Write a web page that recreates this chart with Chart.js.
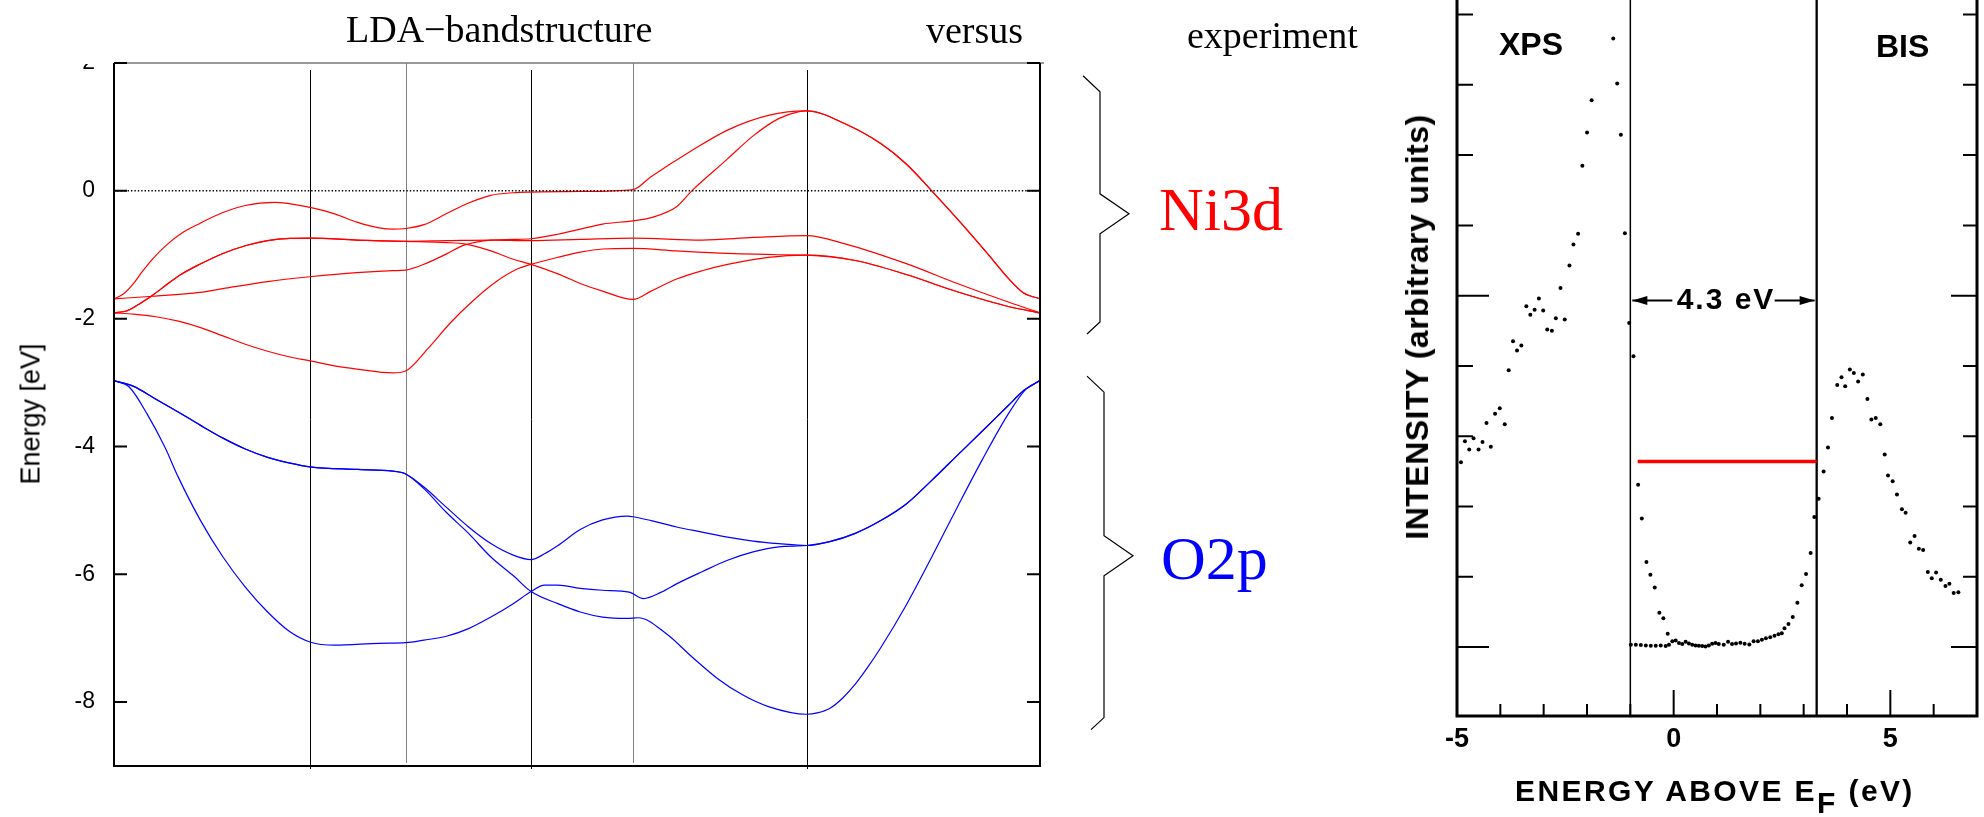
<!DOCTYPE html>
<html>
<head>
<meta charset="utf-8">
<script src="https://cdn.jsdelivr.net/npm/chart.js@4.4.1/dist/chart.umd.min.js"></script>
<style>
  body { margin: 0; background: #fff; }
  #wrap { position: relative; width: 1984px; height: 817px; overflow: hidden; background: #fff; }
  canvas { position: absolute; top: 0; }
  #bands { left: 0; clip-path: polygon(108px 0, 100% 0, 100% 100%, 0 100%, 0 64px, 108px 64px); }
  #spectrum { left: 1380px; }
  .t { position: absolute; white-space: nowrap; line-height: 1; color: #000; }
  .serif { font-family: "Liberation Serif", "Times New Roman", serif; }
  .sans { font-family: "Liberation Sans", Arial, sans-serif; }
  .bold { font-weight: bold; }
</style>
</head>
<body>
<div id="wrap">
  <canvas id="bands" width="1160" height="817"></canvas>
  <canvas id="spectrum" width="604" height="817"></canvas>

  <div class="t serif" style="left:346px;top:10px;font-size:38px">LDA−bandstructure</div>
  <div class="t serif" style="left:926px;top:11px;font-size:38px">versus</div>
  <div class="t serif" style="left:1187px;top:16px;font-size:38px">experiment</div>
  <div class="t serif" style="left:1159px;top:178px;font-size:62px;color:#ff0000">Ni3d</div>
  <div class="t serif" style="left:1161px;top:527px;font-size:62px;color:#0000ff">O2p</div>
  <div class="t sans" style="left:31px;top:414px;font-size:27px;transform:translate(-50%,-50%) rotate(-90deg)">Energy [eV]</div>

  <div class="t sans bold" style="left:1499px;top:28px;font-size:32px">XPS</div>
  <div class="t sans bold" style="left:1876px;top:30px;font-size:32px">BIS</div>
  <div class="t sans bold" style="left:1726px;top:284px;font-size:30px;letter-spacing:2px;transform:translateX(-50%)">4.3 eV</div>
  <div class="t sans bold" style="left:1417px;top:327px;font-size:32px;letter-spacing:0.5px;transform:translate(-50%,-50%) rotate(-90deg)">INTENSITY (arbitrary units)</div>
  <div class="t sans bold" style="left:1515px;top:776px;font-size:30px;letter-spacing:2.4px">ENERGY ABOVE E<span style="position:relative;top:12px">F</span>&nbsp;(eV)</div>
</div>

<script>
// ---- band structure (k along the path, 0..1) ----
var kPoints = [0, 0.2117, 0.315, 0.4504, 0.5605, 0.7481, 1];
var energyTicks = [-8, -6, -4, -2, 0, 2];
var fermiLevel = 0;

var ni3dBand1 = [[0,-1.69],[0.0097,-1.62],[0.0205,-1.46],[0.0313,-1.25],[0.0421,-1.06],[0.0566,-0.85],[0.0746,-0.65],[0.0926,-0.51],[0.1177,-0.34],[0.1418,-0.23],[0.1731,-0.18],[0.2117,-0.26],[0.2382,-0.36],[0.2623,-0.49],[0.2865,-0.58],[0.3009,-0.6],[0.315,-0.59],[0.3347,-0.53],[0.3588,-0.36],[0.3829,-0.19],[0.407,-0.07],[0.4311,-0.03],[0.4504,-0.02],[0.5035,-0.01],[0.5605,0.02],[0.5799,0.22],[0.624,0.63],[0.6626,0.95],[0.7067,1.18],[0.7481,1.25],[0.7894,1.05],[0.828,0.74],[0.8556,0.42],[0.8831,0],[0.9107,-0.44],[0.9438,-0.99],[0.9658,-1.37],[0.9824,-1.6],[1,-1.69]];
var ni3dBand2 = [[0,-1.91],[0.0134,-1.88],[0.0242,-1.8],[0.035,-1.7],[0.0421,-1.63],[0.0566,-1.47],[0.071,-1.32],[0.0926,-1.15],[0.1177,-0.98],[0.1418,-0.86],[0.1659,-0.78],[0.19,-0.745],[0.2117,-0.74],[0.2623,-0.77],[0.315,-0.79],[0.3588,-0.78],[0.407,-0.77],[0.4504,-0.78],[0.5035,-0.76],[0.5605,-0.74],[0.6351,-0.77],[0.6902,-0.73],[0.7481,-0.7],[0.7894,-0.83],[0.8556,-1.14],[0.9107,-1.45],[0.9658,-1.74],[1,-1.91]];
var ni3dBand3 = [[0,-1.91],[0.0134,-1.88],[0.0242,-1.8],[0.035,-1.7],[0.0421,-1.63],[0.0566,-1.47],[0.071,-1.32],[0.0926,-1.15],[0.1177,-0.98],[0.1418,-0.86],[0.1659,-0.78],[0.19,-0.745],[0.2117,-0.74],[0.2623,-0.77],[0.315,-0.79],[0.3588,-0.81],[0.3781,-0.83],[0.407,-0.94],[0.4311,-1.07],[0.4504,-1.15],[0.4794,-1.3],[0.5035,-1.45],[0.5276,-1.57],[0.5605,-1.7],[0.58,-1.57],[0.6075,-1.38],[0.6351,-1.25],[0.6626,-1.15],[0.7067,-1.04],[0.7481,-1.005],[0.8005,-1.09],[0.8556,-1.31],[0.9107,-1.58],[0.9658,-1.81],[1,-1.91]];
var ni3dBand4 = [[0,-1.69],[0.0421,-1.65],[0.0926,-1.59],[0.1177,-1.53],[0.1659,-1.42],[0.2117,-1.345],[0.2623,-1.28],[0.3009,-1.25],[0.315,-1.24],[0.3347,-1.15],[0.3588,-0.99],[0.3781,-0.85],[0.407,-0.77],[0.4311,-0.76],[0.4504,-0.75],[0.4794,-0.68],[0.5035,-0.6],[0.5276,-0.52],[0.5605,-0.47],[0.58,-0.42],[0.6075,-0.25],[0.624,0],[0.6626,0.5],[0.6902,0.86],[0.7178,1.13],[0.7398,1.24],[0.7481,1.25],[0.7894,1.05],[0.828,0.74],[0.8556,0.42],[0.8831,0],[0.9107,-0.44],[0.9438,-0.99],[0.9658,-1.37],[0.9824,-1.6],[1,-1.69]];
var ni3dBand5 = [[0,-1.91],[0.0212,-1.93],[0.0453,-1.97],[0.0694,-2.04],[0.0935,-2.14],[0.1177,-2.27],[0.1418,-2.4],[0.1659,-2.51],[0.19,-2.6],[0.2117,-2.66],[0.2382,-2.74],[0.2623,-2.79],[0.3009,-2.85],[0.315,-2.82],[0.3395,-2.46],[0.3636,-2.06],[0.3877,-1.72],[0.4118,-1.43],[0.436,-1.22],[0.4504,-1.15],[0.4794,-1.04],[0.5035,-0.96],[0.5276,-0.91],[0.5605,-0.9],[0.6075,-0.94],[0.6626,-0.98],[0.7178,-1],[0.7481,-1.005],[0.8005,-1.09],[0.8556,-1.31],[0.9107,-1.58],[0.9658,-1.81],[1,-1.91]];

var o2pBand1 = [[0,-2.97],[0.0212,-3.06],[0.0453,-3.26],[0.0694,-3.46],[0.0935,-3.67],[0.1177,-3.87],[0.1418,-4.04],[0.1659,-4.17],[0.19,-4.26],[0.2117,-4.32],[0.2623,-4.36],[0.3009,-4.385],[0.315,-4.43],[0.3347,-4.635],[0.3588,-4.95],[0.3829,-5.26],[0.407,-5.52],[0.4311,-5.7],[0.4504,-5.77],[0.4649,-5.68],[0.4794,-5.55],[0.5035,-5.3],[0.5276,-5.15],[0.5541,-5.09],[0.5605,-5.1],[0.58,-5.16],[0.6075,-5.26],[0.6351,-5.34],[0.6626,-5.42],[0.6902,-5.48],[0.7178,-5.52],[0.7481,-5.55],[0.7729,-5.49],[0.8005,-5.36],[0.828,-5.16],[0.8556,-4.9],[0.8831,-4.53],[0.9107,-4.14],[0.9383,-3.75],[0.9658,-3.36],[0.9824,-3.125],[1,-2.97]];
var o2pBand2 = [[0,-2.97],[0.0212,-3.06],[0.0453,-3.26],[0.0694,-3.46],[0.0935,-3.67],[0.1177,-3.87],[0.1418,-4.04],[0.1659,-4.17],[0.19,-4.26],[0.2117,-4.32],[0.2623,-4.36],[0.3009,-4.385],[0.315,-4.43],[0.3347,-4.66],[0.3588,-5.03],[0.3829,-5.36],[0.407,-5.73],[0.4311,-6.02],[0.4504,-6.27],[0.4794,-6.46],[0.5035,-6.59],[0.5276,-6.67],[0.5541,-6.69],[0.5662,-6.68],[0.5965,-6.93],[0.624,-7.29],[0.6516,-7.63],[0.6792,-7.89],[0.7067,-8.07],[0.7481,-8.19],[0.7605,-8.165],[0.7729,-8.1],[0.7867,-7.94],[0.8005,-7.72],[0.8142,-7.45],[0.828,-7.15],[0.8556,-6.48],[0.8831,-5.73],[0.9107,-4.95],[0.9383,-4.19],[0.9658,-3.49],[0.9851,-3.1],[1,-2.97]];
var o2pBand3 = [[0,-2.97],[0.0164,-3.07],[0.0357,-3.49],[0.0549,-4.01],[0.0694,-4.48],[0.0935,-5.16],[0.1177,-5.73],[0.1418,-6.2],[0.1659,-6.59],[0.19,-6.9],[0.2117,-7.06],[0.2382,-7.11],[0.2865,-7.08],[0.315,-7.07],[0.3347,-7.03],[0.3588,-6.97],[0.3829,-6.85],[0.407,-6.67],[0.4311,-6.46],[0.4504,-6.27],[0.4649,-6.17],[0.4794,-6.17],[0.5035,-6.22],[0.5276,-6.25],[0.5564,-6.28],[0.5717,-6.38],[0.591,-6.28],[0.6075,-6.15],[0.6351,-5.96],[0.6626,-5.78],[0.6902,-5.65],[0.7178,-5.57],[0.7481,-5.55],[0.7729,-5.49],[0.8005,-5.36],[0.828,-5.16],[0.8556,-4.9],[0.8831,-4.53],[0.9107,-4.14],[0.9383,-3.75],[0.9658,-3.36],[0.9824,-3.125],[1,-2.97]];

var ni3dRange = [1.8, -0.36, -2.24];
var o2pRange = [-2.9, -5.71, -8.43];

// ---- XPS / BIS spectrum (energy above E_F, intensity) ----
var spectrumTicksX = [-5, -4, -3, -2, -1, 0, 1, 2, 3, 4, 5, 6, 7];
var intensityTicks = [0, 1, 2, 3, 4, 5, 6, 7, 8, 9];
var gapEdges = [-1.0, 3.3];
var gapArrowLevel = 4.93;
var ldaGapLine = [[-0.83, 2.64], [3.3, 2.64]];

var xpsPoints = [[-1.394,8.66],[-1.303,8.02],[-1.893,7.78],[-1.999,7.32],[-1.218,7.29],[-2.107,6.85],[-1.126,5.89],[-2.205,5.88],[-2.313,5.73],[-2.405,5.43],[-2.612,5.11],[-3.11,4.96],[-3.4,4.85],[-3.209,4.8],[-3.308,4.73],[-3.01,4.79],[-2.719,4.68],[-2.513,4.66],[-2.918,4.52],[-2.811,4.5],[-1.027,4.61],[-0.928,4.14],[-3.707,4.35],[-3.515,4.29],[-3.615,4.22],[-3.807,3.94],[-4.013,3.4],[-4.121,3.32],[-4.319,3.19],[-3.898,3.17],[-4.618,2.97],[-4.817,2.93],[-4.411,2.92],[-4.718,2.81],[-4.503,2.81],[-4.22,2.85],[-4.909,2.63]];
var gapPoints = [[-0.82,2.31],[-0.735,1.83],[-0.629,1.21],[-0.537,1.03],[-0.437,0.85],[-0.33,0.49],[-0.238,0.41],[-0.138,0.19],
  [-0.988,0.034],[-0.873,0.034],[-0.758,0.029],[-0.643,0.024],[-0.528,0.019],[-0.414,0.019],[-0.299,0.024],[-0.184,0.015],[-0.108,0.034],[-0.031,0.085],[0.046,0.095],[0.122,0.057],[0.198,0.043],[0.276,0.076],[0.352,0.053],[0.428,0.034],[0.505,0.024],[0.581,0.019],[0.658,0.015],[0.735,0.01],[0.811,0.024],[0.888,0.048],[0.965,0.057],[1.041,0.043],[1.156,0.034],[1.255,0.076],[1.347,0.043],[1.439,0.053],[1.539,0.062],[1.638,0.048],[1.746,0.038],[1.845,0.085],[1.944,0.085],[2.036,0.104],[2.128,0.127],[2.228,0.142],[2.327,0.161],[2.419,0.184],[2.495,0.198],
  [2.557,0.27],[2.649,0.33],[2.748,0.43],[2.855,0.63],[2.955,0.88],[3.055,1.04],[3.161,1.34],[3.246,1.85]];
var bisPoints = [[3.345,2.11],[3.46,2.5],[3.561,2.84],[3.653,3.26],[3.775,3.73],[3.873,3.84],[3.958,3.71],[4.066,3.95],[4.158,3.9],[4.257,3.78],[4.365,3.88],[4.471,3.53],[4.563,3.24],[4.663,3.26],[4.769,3.17],[4.87,2.74],[4.946,2.44],[5.054,2.36],[5.153,2.17],[5.268,1.96],[5.353,1.91],[5.459,1.49],[5.559,1.58],[5.658,1.4],[5.757,1.38],[5.865,1.07],[5.957,0.98],[6.056,1.06],[6.164,0.96],[6.272,0.87],[6.363,0.9],[6.462,0.77],[6.57,0.78]];

Chart.defaults.font.family = '"Liberation Sans", Arial, sans-serif';
Chart.defaults.color = '#000';

function toXY(pairs) {
    return pairs.map(function(p) { return { x: p[0], y: p[1] }; });
}

function bandSet(pairs, color) {
    return {
        data: toXY(pairs),
        borderColor: color,
        borderWidth: 1.2,
        pointRadius: 0,
        fill: false,
        cubicInterpolationMode: 'monotone'
    };
}

function drawBrace(ctx, x, yTop, yTip, yBottom) {
    ctx.beginPath();
    ctx.moveTo(x, yTop);
    ctx.lineTo(x + 17, yTop + 16);
    ctx.lineTo(x + 17, yTip - 20);
    ctx.lineTo(x + 46, yTip);
    ctx.lineTo(x + 17, yTip + 20);
    ctx.lineTo(x + 17, yBottom - 12);
    ctx.lineTo(x + 4, yBottom);
    ctx.stroke();
}

//-------------
//- BAND PANEL -
//-------------
var bandDecor = {
    id: 'bandDecor',
    beforeDatasetsDraw: function(chart) {
        var ctx = chart.ctx, a = chart.chartArea, xs = chart.scales.x;
        ctx.save();
        ctx.lineWidth = 1;
        for (var i = 1; i < kPoints.length - 1; i++) {
            var x = Math.round(xs.getPixelForValue(kPoints[i])) + 0.5;
            var black = (i % 2 === 1);
            ctx.strokeStyle = black ? '#000' : '#808080';
            ctx.beginPath();
            ctx.moveTo(x, black ? a.top + 7 : a.top);
            ctx.lineTo(x, black ? a.bottom + 3 : a.bottom - 3);
            ctx.stroke();
        }
        ctx.restore();
    },
    afterDatasetsDraw: function(chart) {
        var ctx = chart.ctx, a = chart.chartArea, ys = chart.scales.y;
        ctx.save();
        // frame
        ctx.strokeStyle = '#777';
        ctx.lineWidth = 1.3;
        ctx.beginPath();
        ctx.moveTo(a.left + 5, a.top);
        ctx.lineTo(a.right + 4, a.top);
        ctx.stroke();
        ctx.strokeStyle = '#000';
        ctx.lineWidth = 2;
        ctx.beginPath();
        ctx.moveTo(a.left, a.top);
        ctx.lineTo(a.left, a.bottom);
        ctx.lineTo(a.right, a.bottom);
        ctx.lineTo(a.right, a.top);
        ctx.stroke();
        // inward ticks
        energyTicks.forEach(function(v) {
            var y = ys.getPixelForValue(v);
            ctx.beginPath();
            ctx.moveTo(a.left, y);
            ctx.lineTo(a.left + 13, y);
            ctx.moveTo(a.right, y);
            ctx.lineTo(a.right - 13, y);
            ctx.stroke();
        });
        // braces grouping the bands
        ctx.lineWidth = 1.2;
        drawBrace(ctx, a.right + 43, ys.getPixelForValue(ni3dRange[0]), ys.getPixelForValue(ni3dRange[1]), ys.getPixelForValue(ni3dRange[2]));
        drawBrace(ctx, a.right + 47, ys.getPixelForValue(o2pRange[0]), ys.getPixelForValue(o2pRange[1]), ys.getPixelForValue(o2pRange[2]));
        ctx.restore();
    }
};

var bandDatasets = [{
    data: toXY([[0, fermiLevel], [1, fermiLevel]]),
    borderColor: '#000',
    borderWidth: 1.4,
    borderDash: [1.4, 2],
    pointRadius: 0
}];
[ni3dBand1, ni3dBand2, ni3dBand3, ni3dBand4, ni3dBand5].forEach(function(b) {
    bandDatasets.push(bandSet(b, '#ff0000'));
});
[o2pBand1, o2pBand2, o2pBand3].forEach(function(b) {
    bandDatasets.push(bandSet(b, '#0000ff'));
});

new Chart(document.getElementById('bands'), {
    type: 'line',
    data: { datasets: bandDatasets },
    options: {
        responsive: false,
        animation: false,
        layout: { padding: { left: 0, right: 120, top: 63, bottom: 51 } },
        plugins: { legend: { display: false }, tooltip: { enabled: false } },
        scales: {
            x: { type: 'linear', min: 0, max: 1, display: false },
            y: {
                type: 'linear', min: -9, max: 2,
                afterBuildTicks: function(s) { s.ticks = energyTicks.map(function(v) { return { value: v }; }); },
                afterFit: function(s) { s.width = 114; },
                grid: { display: false, drawTicks: false },
                border: { display: false },
                ticks: { padding: 19, font: { size: 23 } }
            }
        }
    },
    plugins: [bandDecor]
});

//-------------
//- SPECTRUM PANEL -
//-------------
var spectrumDecor = {
    id: 'spectrumDecor',
    beforeDatasetsDraw: function(chart) {
        var ctx = chart.ctx, a = chart.chartArea, xs = chart.scales.x;
        ctx.save();
        ctx.strokeStyle = '#000';
        gapEdges.forEach(function(v, i) {
            ctx.lineWidth = i === 0 ? 1.5 : 2.3;
            var x = xs.getPixelForValue(v);
            ctx.beginPath();
            ctx.moveTo(x, a.bottom);
            ctx.lineTo(x, 0);
            ctx.stroke();
        });
        ctx.restore();
    },
    afterDatasetsDraw: function(chart) {
        var ctx = chart.ctx, a = chart.chartArea, xs = chart.scales.x, ys = chart.scales.y;
        ctx.save();
        ctx.strokeStyle = '#000';
        ctx.fillStyle = '#000';
        ctx.lineWidth = 3;
        ctx.beginPath();
        ctx.moveTo(a.left, 0);
        ctx.lineTo(a.left, a.bottom);
        ctx.lineTo(a.right, a.bottom);
        ctx.lineTo(a.right, 0);
        ctx.stroke();
        ctx.lineWidth = 2;
        spectrumTicksX.forEach(function(v) {
            if (v === spectrumTicksX[0] || v === spectrumTicksX[spectrumTicksX.length - 1]) return;
            var x = xs.getPixelForValue(v);
            ctx.beginPath();
            ctx.moveTo(x, a.bottom);
            ctx.lineTo(x, a.bottom - (v % 5 === 0 ? 26 : 12));
            ctx.stroke();
        });
        intensityTicks.forEach(function(v) {
            var y = ys.getPixelForValue(v);
            var major = v % 5 === 0;
            ctx.beginPath();
            ctx.moveTo(a.left, y);
            ctx.lineTo(a.left + (major ? 32 : 16), y);
            ctx.moveTo(a.right, y);
            ctx.lineTo(a.right - (major ? 26 : 14), y);
            ctx.stroke();
        });
        // 4.3 eV arrows
        var yA = ys.getPixelForValue(gapArrowLevel);
        var xL = xs.getPixelForValue(gapEdges[0]) + 2;
        var xR = xs.getPixelForValue(gapEdges[1]) - 2;
        ctx.lineWidth = 2;
        ctx.beginPath();
        ctx.moveTo(xL, yA); ctx.lineTo(xL + 40, yA);
        ctx.moveTo(xR - 40, yA); ctx.lineTo(xR, yA);
        ctx.stroke();
        ctx.beginPath();
        ctx.moveTo(xL, yA); ctx.lineTo(xL + 15, yA - 4.5); ctx.lineTo(xL + 15, yA + 4.5); ctx.closePath();
        ctx.moveTo(xR, yA); ctx.lineTo(xR - 15, yA - 4.5); ctx.lineTo(xR - 15, yA + 4.5); ctx.closePath();
        ctx.fill();
        ctx.restore();
    }
};

var dotStyle = { pointRadius: 2, pointBackgroundColor: '#000', pointBorderWidth: 0, showLine: false };

new Chart(document.getElementById('spectrum'), {
    type: 'scatter',
    data: {
        datasets: [
            Object.assign({ data: toXY(xpsPoints) }, dotStyle),
            Object.assign({ data: toXY(gapPoints) }, dotStyle),
            Object.assign({ data: toXY(bisPoints) }, dotStyle),
            { type: 'line', data: toXY(ldaGapLine), borderColor: '#ff0000', borderWidth: 3.5, pointRadius: 0 }
        ]
    },
    options: {
        responsive: false,
        animation: false,
        layout: { padding: { left: 77, right: 6, top: 0, bottom: 0 } },
        plugins: { legend: { display: false }, tooltip: { enabled: false } },
        scales: {
            x: {
                type: 'linear', min: -5, max: 7,
                afterBuildTicks: function(s) { s.ticks = spectrumTicksX.map(function(v) { return { value: v }; }); },
                afterFit: function(s) { s.height = 101; },
                grid: { display: false, drawTicks: false },
                border: { display: false },
                ticks: {
                    padding: 7, autoSkip: false, maxRotation: 0,
                    font: { size: 27, weight: 'bold' },
                    callback: function(v) { return v % 5 === 0 ? String(v) : ''; }
                }
            },
            y: { type: 'linear', min: -0.98, max: 9.15, display: false }
        }
    },
    plugins: [spectrumDecor]
});
</script>
</body>
</html>
